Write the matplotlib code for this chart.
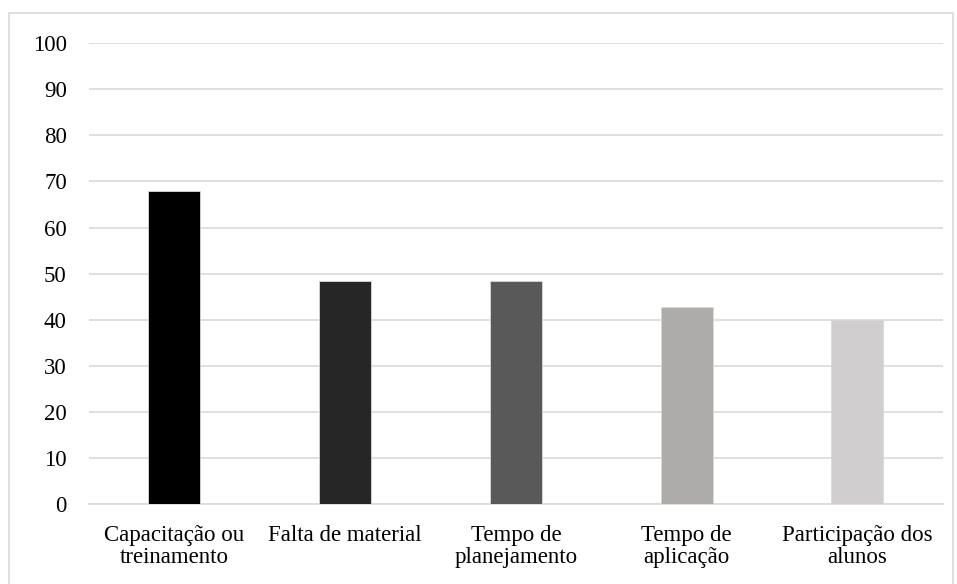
import matplotlib
matplotlib.use('Agg')
import matplotlib.pyplot as plt
from matplotlib.patches import Rectangle

plt.rcParams['font.family'] = ['Liberation Serif', 'DejaVu Serif']

CATEGORIES = ['Capacitação ou\ntreinamento', 'Falta de material', 'Tempo de\nplanejamento',
              'Tempo de\naplicação', 'Participação dos\nalunos']
VALUES = [68, 48.3, 48.3, 42.7, 40]
BAR_COLORS = ['#000000', '#262626', '#595959', '#AEABAB', '#D0CECE']
Y_TICKS = list(range(0, 101, 10))

fig = plt.figure(figsize=(9.57, 5.84), dpi=100)
ax = fig.add_axes([0.093, 0.137, 0.892, 0.789])

x = range(len(CATEGORIES))
ax.bar(x, VALUES, width=0.305, color=BAR_COLORS, edgecolor='#d9d9d9', linewidth=0.6, zorder=3)

ax.set_xlim(-0.5, len(CATEGORIES) - 0.5)
ax.set_ylim(0, 100)
ax.set_yticks(Y_TICKS)
ax.yaxis.grid(True, color='#d9d9d9', linewidth=1.2, zorder=0)
ax.set_axisbelow(True)
for s in ['top', 'right', 'left']:
    ax.spines[s].set_visible(False)
ax.spines['bottom'].set_color('#d9d9d9')
ax.spines['bottom'].set_linewidth(1.2)
ax.tick_params(axis='both', length=0, labelsize=16.5, colors='black')
ax.tick_params(axis='y', pad=16)
ax.tick_params(axis='x', pad=15)
ax.set_xticks(list(x))
ax.set_xticklabels(CATEGORIES, linespacing=1.1)

# outer chart border
fig.patches.append(Rectangle((9 / 957, -0.01), 944 / 957, 1 - 13 / 584 + 0.01, transform=fig.transFigure,
                             fill=False, edgecolor='#d9d9d9', linewidth=1.2))

fig.savefig('out.png', dpi=100)
